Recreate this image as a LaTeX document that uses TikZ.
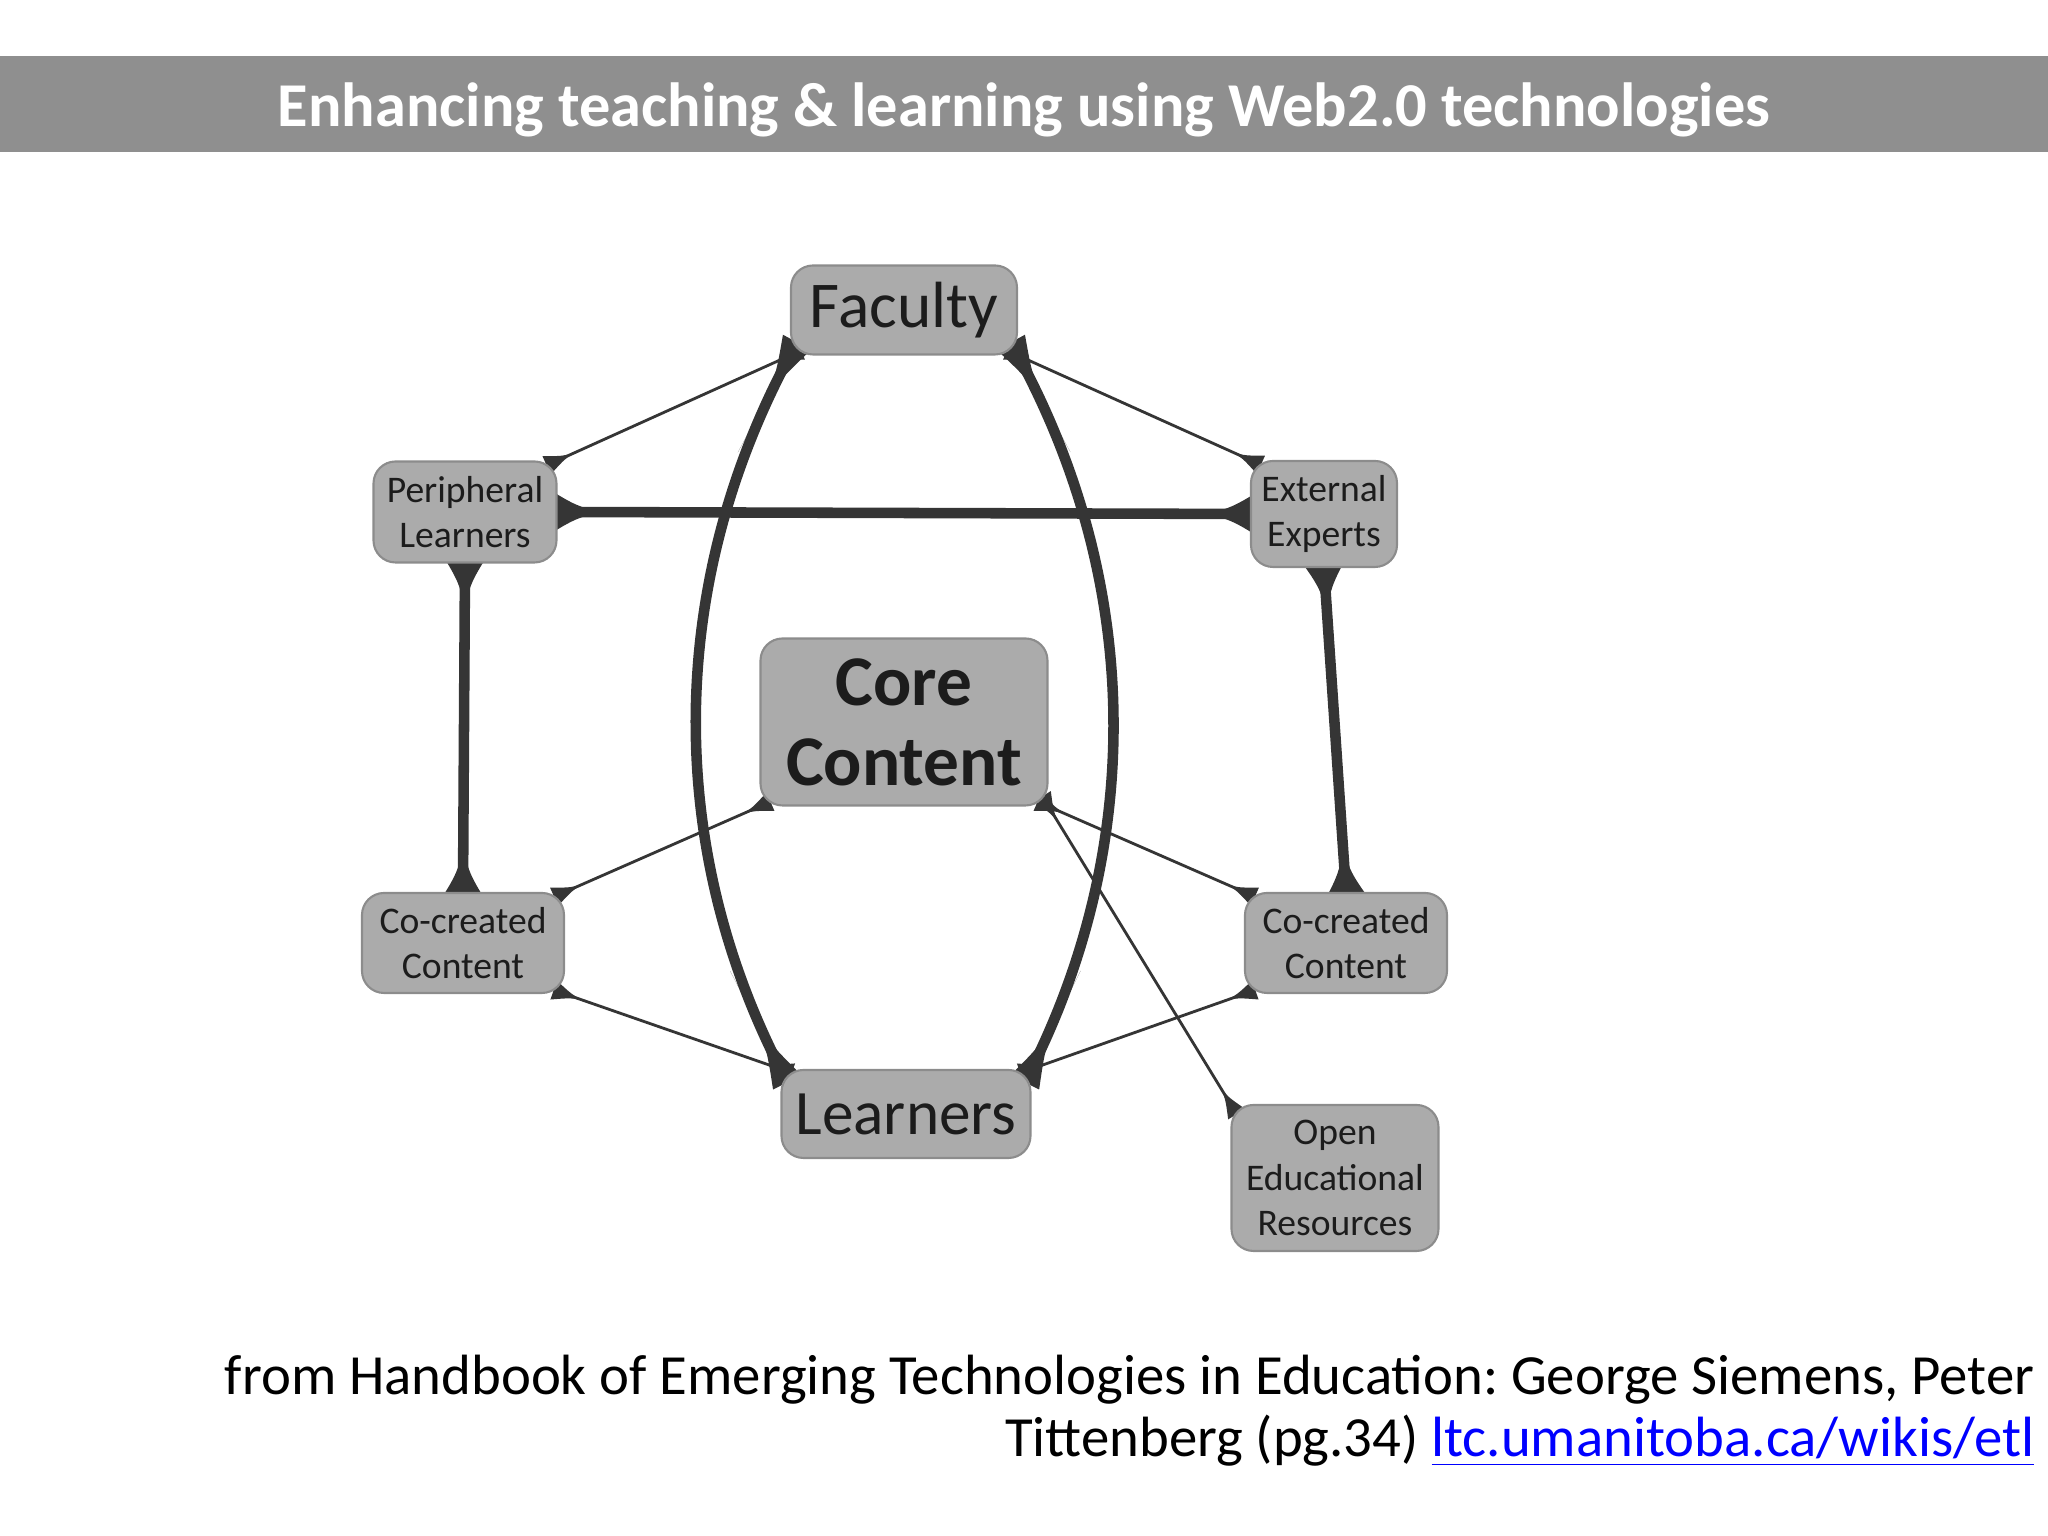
\documentclass[tikz,border=0pt]{standalone}
\usepackage{fontspec}
\setmainfont{Carlito}
\frenchspacing
\usetikzlibrary{calc,backgrounds}

\definecolor{bargray}{HTML}{8F8F8F}
\definecolor{boxgray}{HTML}{ABABAB}
\definecolor{boxedge}{HTML}{8C8C8C}
\definecolor{linkgray}{HTML}{353535}
\definecolor{inkgray}{HTML}{1C1C1C}

\begin{document}
\begin{tikzpicture}[
    box/.style={draw=boxedge, line width=0.6pt, fill=boxgray, rounded corners=2.2mm, inner sep=0pt, align=center, text=inkgray},
    smallbox/.style={box, font=\fontsize{10.7}{13}\selectfont}
]
    \def\flare#1#2#3#4#5{
    \fill[linkgray] let \p1=($(#2)-(#1)$), \n1={atan2(\y1,\x1)} in
        ($(#1)+(\n1:-#5)+(\n1+90:#4)$) .. controls ($(#1)+(\n1:0.3*#3)$) .. ($(#1)+(\n1:#3)$)
        .. controls ($(#1)+(\n1:0.3*#3)$) .. ($(#1)+(\n1:-#5)+(\n1-90:#4)$) -- cycle;
    }
    \def\tie#1#2{
    \draw[linkgray, line width=3pt] (#1) -- (#2);
    \flare{#1}{#2}{0.9}{0.3}{0.2}
    \flare{#2}{#1}{0.9}{0.3}{0.2}
    }
    \def\thintie#1#2{
    \draw[linkgray, line width=0.8pt] (#1) -- (#2);
    \flare{#1}{#2}{0.35}{0.1}{0.12}
    \flare{#2}{#1}{0.35}{0.1}{0.12}
    }

    \useasboundingbox (0,0) rectangle (20.48,15.36);

    \fill[bargray] (0,13.84) rectangle (20.48,14.80);
    \node[anchor=base, text=white, font=\bfseries\fontsize{17.75}{20}\selectfont] (title) at (10.24,14.09) {Enhancing teaching \& learning using Web2.0 technologies};

    \node[box, minimum width=2.26cm, minimum height=0.89cm, font=\fontsize{18.6}{20}\selectfont] (faculty) at (9.04,12.26) {Faculty};
    \node[smallbox, minimum width=1.83cm, minimum height=1.01cm] (periph) at (4.65,10.24) {Peripheral\\Learners};
    \node[smallbox, minimum width=1.46cm, minimum height=1.06cm] (experts) at (13.24,10.22) {External\\Experts};
    \node[box, minimum width=2.87cm, minimum height=1.67cm, font=\bfseries\fontsize{20.3}{22.7}\selectfont] (core) at (9.04,8.14) {Core\\Content};
    \node[smallbox, minimum width=2.02cm, minimum height=1.00cm] (cocreatedL) at (4.63,5.93) {Co-created\\Content};
    \node[smallbox, minimum width=2.02cm, minimum height=1.00cm] (cocreatedR) at (13.46,5.93) {Co-created\\Content};
    \node[box, minimum width=2.49cm, minimum height=0.88cm, font=\fontsize{18}{20}\selectfont] (learners) at (9.06,4.22) {Learners};
    \node[smallbox, minimum width=2.07cm, minimum height=1.46cm] (oer) at (13.35,3.58) {Open\\Educational\\Resources};

    \begin{pgfonlayer}{background}
    \draw[linkgray, line width=3pt] (faculty.south west) .. controls (6.66,9.5) and (6.66,6.9) .. (learners.north west);
    \draw[linkgray, line width=3pt] (faculty.south east) .. controls (11.43,9.5) and (11.43,6.9) .. (learners.north east);
    \flare{faculty.south west}{6.66,9.5}{1.1}{0.16}{0.15}
    \flare{learners.north west}{6.66,6.9}{1.1}{0.16}{0.15}
    \flare{faculty.south east}{11.43,9.5}{1.1}{0.16}{0.15}
    \flare{learners.north east}{11.43,6.9}{1.1}{0.16}{0.15}
    \tie{periph.east}{experts.west}
    \tie{periph.south}{cocreatedL.north}
    \tie{experts.south}{cocreatedR.north}
    \thintie{faculty.south west}{periph.north east}
    \thintie{faculty.south east}{experts.north west}
    \thintie{core.south west}{cocreatedL.north east}
    \thintie{core.south east}{cocreatedR.north west}
    \thintie{core.south east}{oer.north west}
    \thintie{cocreatedL.south east}{learners.north west}
    \thintie{cocreatedR.south west}{learners.north east}
    \end{pgfonlayer}

    \node[anchor=base east, inner sep=0pt, font=\fontsize{16.15}{17.6}\selectfont] (source) at (20.35,1.41) {from Handbook of Emerging Technologies in Education: George Siemens, Peter};
    \node[anchor=base east, inner sep=0pt, font=\fontsize{16.15}{17.6}\selectfont] (sourcelink) at (20.35,0.79) {Tittenberg (pg.34) \textcolor{blue}{\underline{ltc.umanitoba.ca/wikis/etl}}};
\end{tikzpicture}
\end{document}
